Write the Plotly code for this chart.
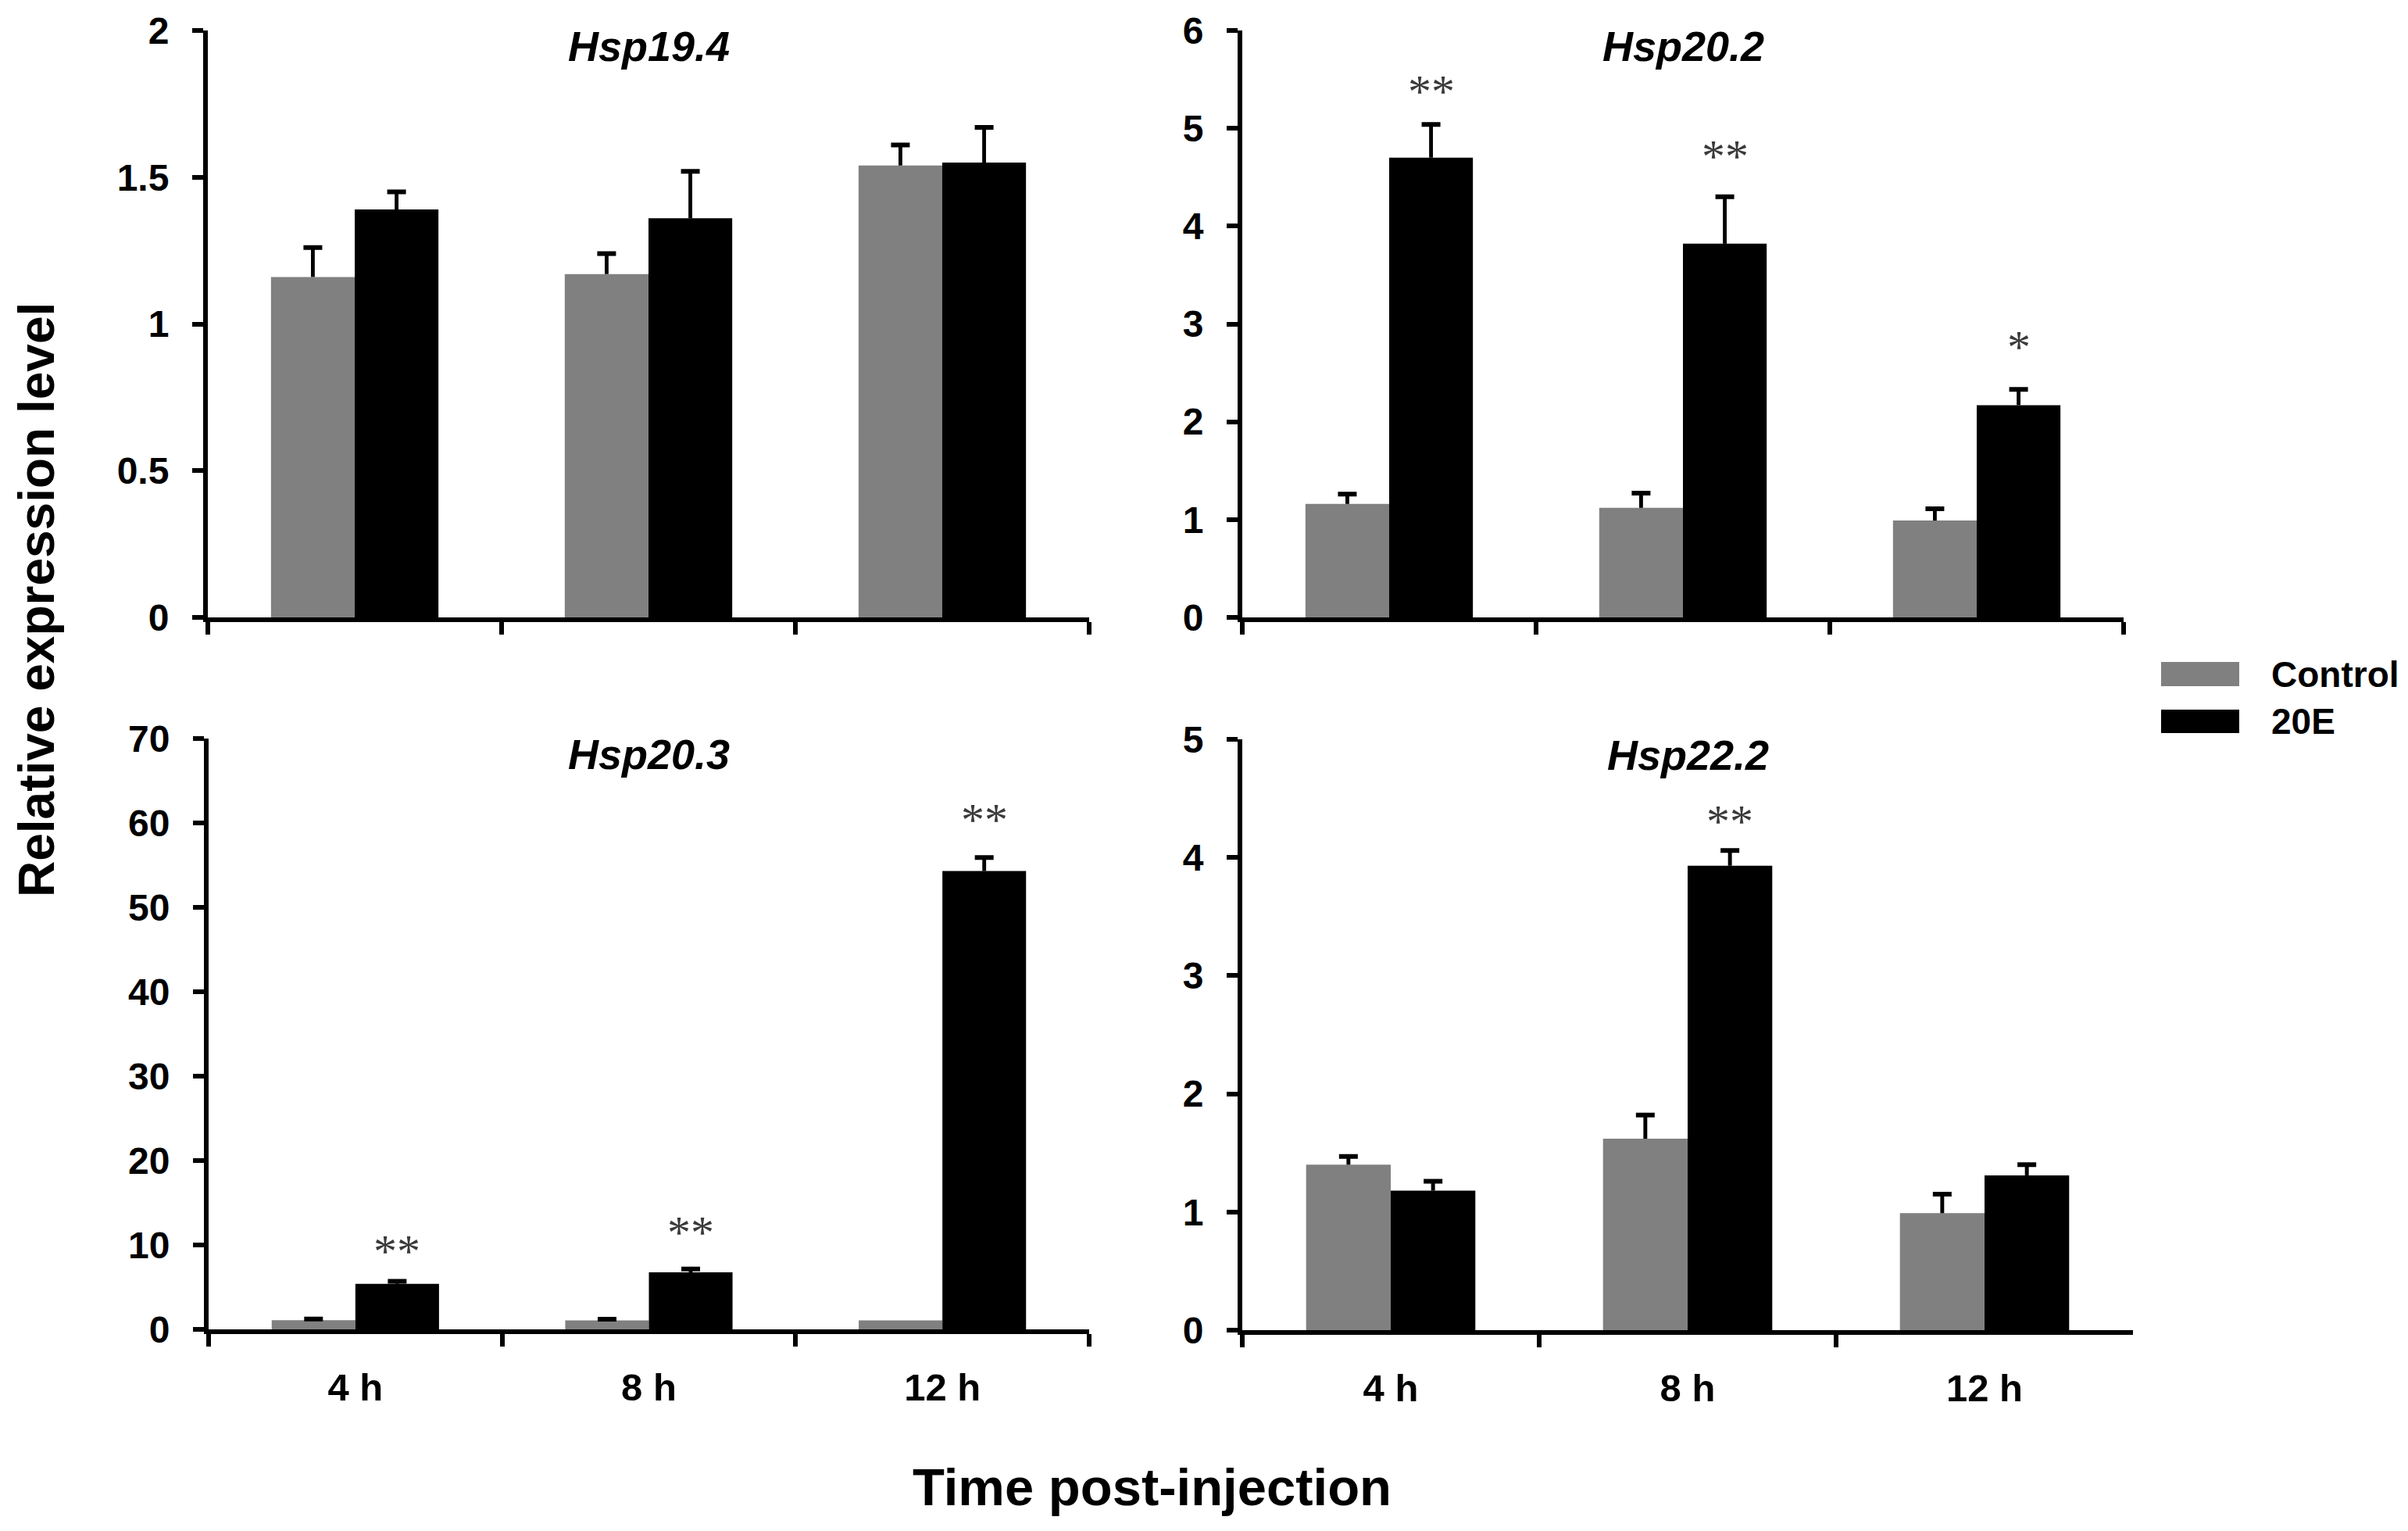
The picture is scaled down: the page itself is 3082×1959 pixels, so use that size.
import plotly.graph_objects as go

# hours after injection
times = ["4 h", "8 h", "12 h"]
genes = ["Hsp19.4", "Hsp20.2", "Hsp20.3", "Hsp22.2"]

# relative expression (mean and upper error)
hsp194_control = [1.16, 1.17, 1.54]
hsp194_control_err = [0.10, 0.07, 0.07]
hsp194_20e = [1.39, 1.36, 1.55]
hsp194_20e_err = [0.06, 0.16, 0.12]

hsp202_control = [1.16, 1.12, 0.99]
hsp202_control_err = [0.10, 0.15, 0.12]
hsp202_20e = [4.70, 3.82, 2.17]
hsp202_20e_err = [0.34, 0.48, 0.16]

hsp203_control = [1.08, 1.06, 1.06]
hsp203_control_err = [0.15, 0.15, None]
hsp203_20e = [5.4, 6.75, 54.3]
hsp203_20e_err = [0.3, 0.4, 1.6]

hsp222_control = [1.40, 1.62, 0.99]
hsp222_control_err = [0.07, 0.20, 0.16]
hsp222_20e = [1.18, 3.93, 1.31]
hsp222_20e_err = [0.08, 0.13, 0.09]

# significance marks and where they sit
hsp202_stars = ["**", "**", "*"]
hsp202_star_y = [5.43, 4.77, 2.82]
hsp203_stars = ["**", "**", "**"]
hsp203_star_y = [9.9, 12.1, 61.0]
hsp222_stars = ["", "**", ""]
hsp222_star_y = [None, 4.35, None]

# y axis ranges / tick steps
y_max = [2, 6, 70, 5]
y_step = [0.5, 1, 10, 1]

GREY = "#808080"
BLACK = "#000000"
FONT = "Liberation Sans, Arial, sans-serif"
W, H = 3082, 1959

panels = [
    (hsp194_control, hsp194_control_err, hsp194_20e, hsp194_20e_err, [], []),
    (hsp202_control, hsp202_control_err, hsp202_20e, hsp202_20e_err, hsp202_stars, hsp202_star_y),
    (hsp203_control, hsp203_control_err, hsp203_20e, hsp203_20e_err, hsp203_stars, hsp203_star_y),
    (hsp222_control, hsp222_control_err, hsp222_20e, hsp222_20e_err, hsp222_stars, hsp222_star_y),
]

# panel boxes in pixels (left, right, top, bottom)
boxes = [
    (266, 1394, 39, 790),
    (1590, 2718, 39, 790),
    (267, 1394, 945, 1701),
    (1590, 2730, 946, 1702),
]

BAR_W = 0.285
STEM_W = 0.013

fig = go.Figure()
layout = {}
annotations = []

for i, (ctrl, ctrl_err, trt, trt_err, stars, star_y) in enumerate(panels):
    n = "" if i == 0 else str(i + 1)
    xa, ya = "x" + n, "y" + n

    # bars
    fig.add_trace(go.Bar(x=times, y=ctrl, width=BAR_W, offset=-BAR_W,
                         marker=dict(color=GREY, line=dict(width=0)),
                         name="Control", showlegend=False, xaxis=xa, yaxis=ya))
    fig.add_trace(go.Bar(x=times, y=trt, width=BAR_W, offset=0,
                         marker=dict(color=BLACK, line=dict(width=0)),
                         name="20E", showlegend=False, xaxis=xa, yaxis=ya))

    # upper error bars: thin stem from the bar top plus a cap
    for means, errs, centre in [(ctrl, ctrl_err, -BAR_W / 2), (trt, trt_err, BAR_W / 2)]:
        fig.add_trace(go.Bar(
            x=times, y=errs, base=means, width=STEM_W, offset=centre - STEM_W / 2,
            marker=dict(color=BLACK, line=dict(width=0)), showlegend=False,
            error_y=dict(type="data", array=[0, 0, 0], visible=True,
                         color=BLACK, thickness=6, width=12),
            xaxis=xa, yaxis=ya, hoverinfo="skip"))

    left, right, top, bottom = boxes[i]
    layout["xaxis" + n] = dict(
        domain=[left / W, right / W], anchor=ya, type="category",
        range=[-0.5, 2.5], showline=True, linewidth=6, linecolor=BLACK,
        ticks="outside", ticklen=16, tickwidth=6, tickcolor=BLACK,
        tickson="boundaries", showticklabels=i >= 2,
        tickfont=dict(family=FONT, size=49, color=BLACK, weight="bold"),
        ticklabelstandoff=26, showgrid=False, zeroline=False, automargin=False)
    layout["yaxis" + n] = dict(
        domain=[1 - bottom / H, 1 - top / H], anchor=xa,
        range=[0, y_max[i]], tick0=0, dtick=y_step[i],
        showline=True, linewidth=6, linecolor=BLACK,
        ticks="outside", ticklen=14, tickwidth=6, tickcolor=BLACK,
        tickfont=dict(family=FONT, size=48, color=BLACK, weight="bold"),
        ticklabelstandoff=20, showgrid=False, zeroline=False, automargin=False)

    annotations.append(dict(
        text="<b><i>%s</i></b>" % genes[i], xref=xa + " domain", yref=ya + " domain",
        x=0.5, y=0.973, showarrow=False, xanchor="center", yanchor="middle",
        font=dict(family=FONT, size=54, color=BLACK)))

    for j, s in enumerate(stars):
        if not s:
            continue
        annotations.append(dict(
            text=s, xref=xa, yref=ya, x=j + BAR_W / 2, y=star_y[j], yshift=-7,
            showarrow=False, xanchor="center", yanchor="middle",
            font=dict(family="Liberation Serif, Times New Roman, serif", size=60, color="#3a3a3a")))

# axis titles
annotations.append(dict(
    text="<b>Relative expression level</b>", xref="paper", yref="paper",
    x=47 / W, y=1 - 768 / H, textangle=-90, showarrow=False,
    xanchor="center", yanchor="middle", font=dict(family=FONT, size=64, color=BLACK)))
annotations.append(dict(
    text="<b>Time post-injection</b>", xref="paper", yref="paper",
    x=1474 / W, y=1 - 1902 / H, showarrow=False,
    xanchor="center", yanchor="middle", font=dict(family=FONT, size=67, color=BLACK)))

# legend drawn as swatches + labels
legend_names = ["Control", "20E"]
legend_colors = [GREY, BLACK]
legend_rows = [(847, 878), (908, 938)]
shapes = []
for name, col, (y0, y1) in zip(legend_names, legend_colors, legend_rows):
    shapes.append(dict(type="rect", xref="paper", yref="paper",
                       x0=2766 / W, x1=2866 / W, y0=1 - y1 / H, y1=1 - y0 / H,
                       fillcolor=col, line=dict(width=0)))
    annotations.append(dict(
        text="<b>%s</b>" % name, xref="paper", yref="paper",
        x=2905 / W, y=1 - (y0 + y1) / 2 / H, showarrow=False,
        xanchor="left", yanchor="middle", font=dict(family=FONT, size=46, color=BLACK)))

fig.update_layout(
    width=W, height=H, margin=dict(l=0, r=0, t=0, b=0, autoexpand=False),
    paper_bgcolor="white", plot_bgcolor="white",
    barmode="overlay", font=dict(family=FONT, color=BLACK),
    annotations=annotations, shapes=shapes, **layout)

# no page margin so the figure fills the window exactly
fig.write_html("out.html", config={"displayModeBar": False},
               post_script="document.body.style.margin='0';document.body.style.overflow='hidden';")
